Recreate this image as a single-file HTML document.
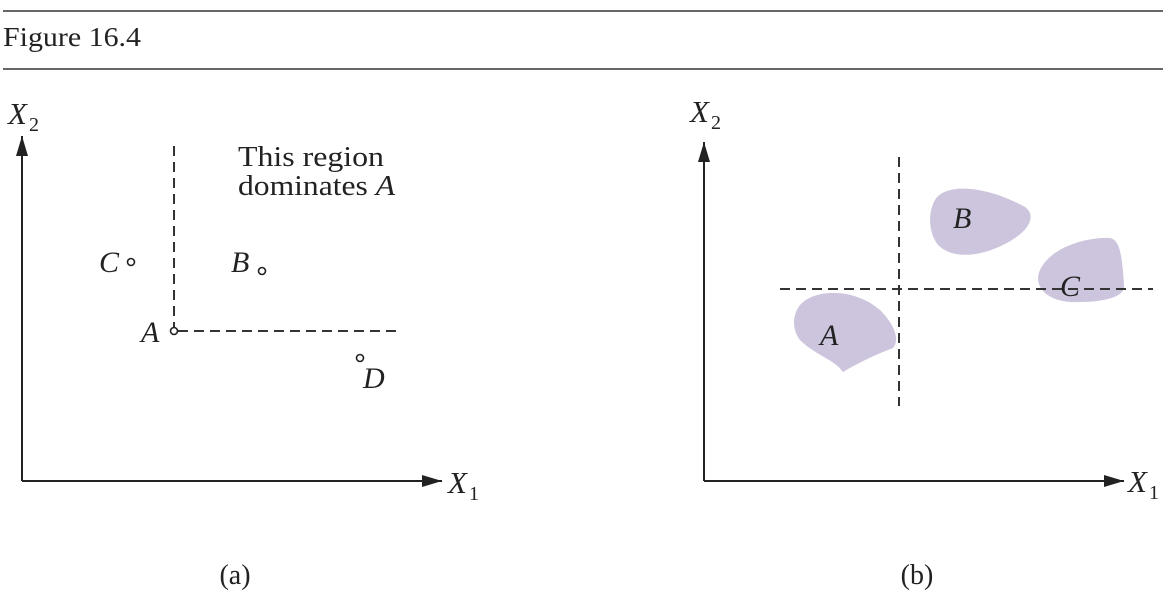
<!DOCTYPE html>
<html><head><meta charset="utf-8"><style>
html,body{margin:0;padding:0;background:#fff;width:1163px;height:591px;overflow:hidden}
</style></head><body>
<svg width="1163" height="591" viewBox="0 0 1163 591" xmlns="http://www.w3.org/2000/svg" font-family="Liberation Serif, serif" fill="#222">
<line x1="3" y1="11" x2="1163" y2="11" stroke="#666" stroke-width="2"/>
<line x1="3" y1="69" x2="1163" y2="69" stroke="#666" stroke-width="2"/>
<text x="3" y="46" font-size="27" textLength="138" lengthAdjust="spacingAndGlyphs" fill="#222">Figure 16.4</text>
<defs><marker id="ar" markerWidth="20" markerHeight="12" refX="20" refY="6" orient="auto" markerUnits="userSpaceOnUse"><path d="M0,0 L20,6 L0,12 Z" fill="#222"/></marker></defs>
<!-- (a) -->
<line x1="22" y1="481" x2="22" y2="136" stroke="#222" stroke-width="2" marker-end="url(#ar)"/>
<line x1="22" y1="481" x2="442" y2="481" stroke="#222" stroke-width="2" marker-end="url(#ar)"/>
<text x="8" y="124" font-size="31" font-style="italic">X</text><text x="29" y="131" font-size="20">2</text>
<text x="448" y="493" font-size="31" font-style="italic">X</text><text x="469" y="500" font-size="20">1</text>
<line x1="174" y1="146" x2="174" y2="328" stroke="#333" stroke-width="2" stroke-dasharray="10,6"/>
<line x1="178" y1="331" x2="398" y2="331" stroke="#333" stroke-width="2" stroke-dasharray="10,6"/>
<text x="238" y="166" font-size="29" textLength="146" lengthAdjust="spacingAndGlyphs">This region</text>
<text x="238" y="195" font-size="29" textLength="157" lengthAdjust="spacingAndGlyphs">dominates <tspan font-style="italic">A</tspan></text>
<g fill="none" stroke="#222" stroke-width="1.6">
<circle cx="174" cy="331" r="3.5"/><circle cx="131" cy="262" r="3.5"/><circle cx="262" cy="271" r="3.5"/><circle cx="360" cy="358" r="3.5"/>
</g>
<g font-size="30" font-style="italic">
<text x="99" y="272">C</text><text x="231" y="272">B</text><text x="141" y="342">A</text><text x="363" y="388">D</text>
</g>
<text x="235" y="584" font-size="28" text-anchor="middle">(a)</text>
<!-- (b) -->
<g fill="#cdc5dd">
<path d="M935,200 C945,183 985,185 1025,207 C1036,215 1030,228 1015,238 C990,255 955,262 938,245 C928,232 928,212 935,200 Z"/>
<path d="M1040,270 C1050,248 1085,237 1110,238 C1120,240 1122,255 1124,285 C1126,298 1100,303 1070,302 C1045,300 1033,285 1040,270 Z"/>
<path d="M800,305 C815,288 855,288 880,310 C895,325 900,340 893,348 C875,355 860,362 843,372 C835,360 815,355 800,340 C792,330 792,315 800,305 Z"/>
</g>
<line x1="704" y1="481" x2="704" y2="142" stroke="#222" stroke-width="2" marker-end="url(#ar)"/>
<line x1="704" y1="481" x2="1124" y2="481" stroke="#222" stroke-width="2" marker-end="url(#ar)"/>
<text x="690" y="122" font-size="31" font-style="italic">X</text><text x="711" y="129" font-size="20">2</text>
<text x="1128" y="492" font-size="31" font-style="italic">X</text><text x="1149" y="499" font-size="20">1</text>
<line x1="899" y1="157" x2="899" y2="406" stroke="#333" stroke-width="2" stroke-dasharray="10,6"/>
<line x1="780" y1="289" x2="1153" y2="289" stroke="#333" stroke-width="2" stroke-dasharray="10,6"/>
<g font-size="30" font-style="italic">
<text x="953" y="228">B</text><text x="1060" y="296">C</text><text x="820" y="345">A</text>
</g>
<text x="917" y="584" font-size="28" text-anchor="middle">(b)</text>
</svg>
</body></html>
